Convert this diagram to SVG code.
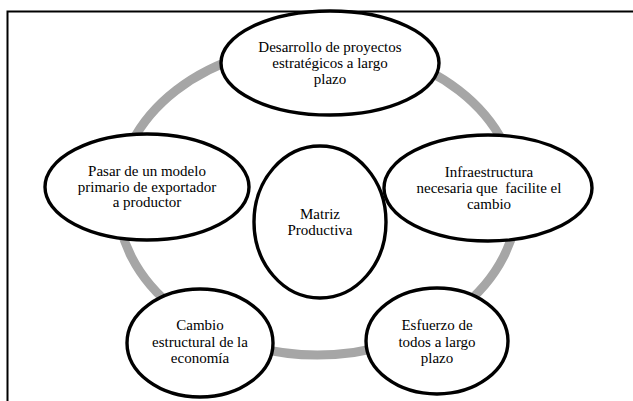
<svg xmlns="http://www.w3.org/2000/svg" width="633" height="401" viewBox="0 0 633 401">
<style>
.n{fill:#fff;stroke:#000;stroke-width:3.4}
.t{font-family:"Liberation Serif",serif;font-size:15px;fill:#000;text-anchor:middle}
.ring{fill:none;stroke:#a6a6a6;stroke-width:9}
</style>
<rect width="633" height="401" fill="#fff"/>
<path d="M7.5 401 V11.5 H633" fill="none" stroke="#000" stroke-width="2"/>
<g id="connectors">
<ellipse class="ring" cx="317.5" cy="200" rx="200" ry="155"/>
</g>
<g id="n-top">
<ellipse class="n" cx="330" cy="63" rx="109" ry="52"/>
<text class="t" x="330" y="52">Desarrollo de proyectos</text>
<text class="t" x="330" y="68">estratégicos a largo</text>
<text class="t" x="330" y="84">plazo</text>
</g>
<g id="n-left">
<ellipse class="n" cx="147" cy="187" rx="102" ry="53"/>
<text class="t" x="147" y="176">Pasar de un modelo</text>
<text class="t" x="147" y="191.5">primario de exportador</text>
<text class="t" x="147" y="207">a productor</text>
</g>
<g id="n-right">
<ellipse class="n" cx="488" cy="188" rx="104" ry="53"/>
<text class="t" x="489" y="177">Infraestructura</text>
<text class="t" x="489" y="193" xml:space="preserve">necesaria que  facilite el</text>
<text class="t" x="489" y="208.5">cambio</text>
</g>
<g id="n-center">
<ellipse class="n" cx="320" cy="222" rx="66" ry="76"/>
<text class="t" x="320" y="219">Matriz</text>
<text class="t" x="320" y="235">Productiva</text>
</g>
<g id="n-bl">
<ellipse class="n" cx="200" cy="343" rx="73" ry="54"/>
<text class="t" x="200" y="330">Cambio</text>
<text class="t" x="200" y="346.5">estructural de la</text>
<text class="t" x="200" y="363">economía</text>
</g>
<g id="n-br">
<ellipse class="n" cx="437" cy="341" rx="71" ry="53"/>
<text class="t" x="437" y="330">Esfuerzo de</text>
<text class="t" x="437" y="346.5">todos a largo</text>
<text class="t" x="437" y="363">plazo</text>
</g>
</svg>
